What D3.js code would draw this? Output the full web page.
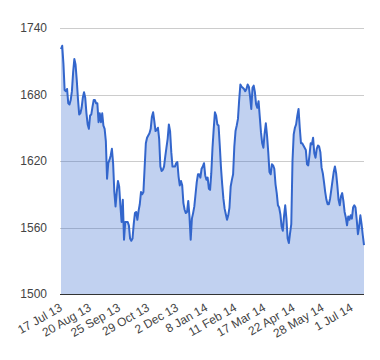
<!DOCTYPE html>
<meta charset="utf-8">
<script src="https://d3js.org/d3.v7.min.js"></script>
<style>
  body { margin: 0; background: #fff; }
  text { font-family: Arial, "Liberation Sans", sans-serif; }
</style>
<div id="chart"></div>
<script>

// one value per trading day, 17 Jul 13 onward
var values = [
  1721, 1724, 1708, 1684, 1683, 1685, 1672, 1671, 1675, 1683,
  1700, 1712, 1707, 1693, 1676, 1662, 1663, 1668, 1677, 1682,
  1677, 1663, 1653, 1649, 1661, 1662, 1669, 1675, 1675, 1672,
  1672, 1655, 1663, 1655, 1663, 1652, 1649, 1638, 1604, 1618,
  1621, 1625, 1631, 1618, 1592, 1579, 1592, 1602, 1597, 1580,
  1565, 1585, 1549, 1565, 1565, 1565, 1562, 1550, 1548, 1550,
  1563, 1573, 1574, 1567, 1575, 1581, 1592, 1590, 1592, 1614,
  1636, 1641, 1643, 1645, 1649, 1660, 1664, 1656, 1647, 1648,
  1650, 1640, 1615, 1611, 1612, 1615, 1624, 1632, 1640, 1653,
  1647, 1628, 1615, 1615, 1615, 1618, 1619, 1606, 1598, 1602,
  1598, 1582, 1576, 1573, 1574, 1584, 1570, 1549, 1568, 1573,
  1579, 1590, 1601, 1608, 1608, 1605, 1613, 1615, 1618, 1607,
  1603, 1605, 1595, 1594, 1609, 1632, 1649, 1664, 1661, 1653,
  1652, 1634, 1614, 1599, 1586, 1577, 1572, 1567, 1571, 1578,
  1597, 1603, 1608, 1633, 1647, 1652, 1658, 1675, 1689, 1687,
  1686, 1685, 1683, 1685, 1689, 1687, 1678, 1667, 1686, 1688,
  1682, 1671, 1668, 1674, 1660, 1646, 1636, 1632, 1645, 1654,
  1643, 1628, 1610, 1608, 1617, 1616, 1613, 1599, 1591, 1580,
  1578, 1572, 1561, 1557, 1570, 1580, 1568, 1550, 1546, 1555,
  1563, 1620, 1644, 1650, 1653, 1661, 1667, 1650, 1636, 1636,
  1634, 1632, 1630, 1617, 1616, 1625, 1636, 1635, 1641, 1627,
  1623, 1631, 1634, 1633, 1628, 1614, 1609, 1601, 1592, 1585,
  1581, 1581, 1586, 1594, 1602, 1610, 1615, 1609, 1598, 1585,
  1580, 1588, 1591, 1584, 1574, 1569, 1562, 1570, 1567, 1571,
  1568, 1578, 1580, 1578, 1567, 1554, 1561, 1571, 1563, 1553,
  1544
];

var dateLabels = ["17 Jul 13", "20 Aug 13", "25 Sep 13", "29 Oct 13", "2 Dec 13",
  "8 Jan 14", "11 Feb 14", "17 Mar 14", "22 Apr 14", "28 May 14", "1 Jul 14"];
var labelStep = 24;

var yTicks = [1500, 1560, 1620, 1680, 1740];

var margin = {top: 28, right: 16, bottom: 66, left: 61},
    width = 380 - margin.left - margin.right,
    height = 360 - margin.top - margin.bottom;

var svg = d3.select("#chart")
  .append("svg")
    .attr("width", 380)
    .attr("height", 360)
  .append("g")
    .attr("transform", "translate(" + margin.left + "," + margin.top + ")");

var x = d3.scaleLinear()
  .domain([0, values.length - 1])
  .range([0, width]);

var y = d3.scaleLinear()
  .domain([1500, 1740])
  .range([height, 0]);

// gridlines
svg.append("g")
  .selectAll("line")
  .data(yTicks.slice(1))
  .enter()
  .append("line")
    .attr("x1", -1)
    .attr("x2", width)
    .attr("y1", function(d) { return Math.round(y(d)) + 0.5; })
    .attr("y2", function(d) { return Math.round(y(d)) + 0.5; })
    .style("stroke", "#cccccc")
    .style("stroke-width", 1);

// y labels
svg.append("g")
  .selectAll("text")
  .data(yTicks)
  .enter()
  .append("text")
    .attr("x", -14)
    .attr("y", function(d) { return y(d); })
    .attr("dy", "0.35em")
    .attr("text-anchor", "end")
    .style("font-size", "12px")
    .style("fill", "#444")
    .text(function(d) { return d; });

var area = d3.area()
  .x(function(d, i) { return x(i); })
  .y0(height)
  .y1(function(d) { return y(d); });

var line = d3.line()
  .x(function(d, i) { return x(i); })
  .y(function(d) { return y(d); });

svg.append("path")
  .datum(values)
  .attr("d", area)
  .style("fill", "#3366cc")
  .style("fill-opacity", 0.3);

svg.append("path")
  .datum(values)
  .attr("d", line)
  .style("fill", "none")
  .style("stroke", "#3366cc")
  .style("stroke-width", 2)
  .style("stroke-linejoin", "round");

// baseline
svg.append("line")
  .attr("x1", -1)
  .attr("x2", width)
  .attr("y1", height + 0.5)
  .attr("y2", height + 0.5)
  .style("stroke", "#333333")
  .style("stroke-width", 1);

// x labels
svg.append("g")
  .selectAll("text")
  .data(dateLabels)
  .enter()
  .append("text")
    .attr("text-anchor", "end")
    .attr("transform", function(d, i) {
      return "translate(" + (x(i * labelStep) + 2) + "," + (height + 16) + ") rotate(-30)";
    })
    .style("font-size", "12px")
    .style("fill", "#444")
    .text(function(d) { return d; });

</script>
